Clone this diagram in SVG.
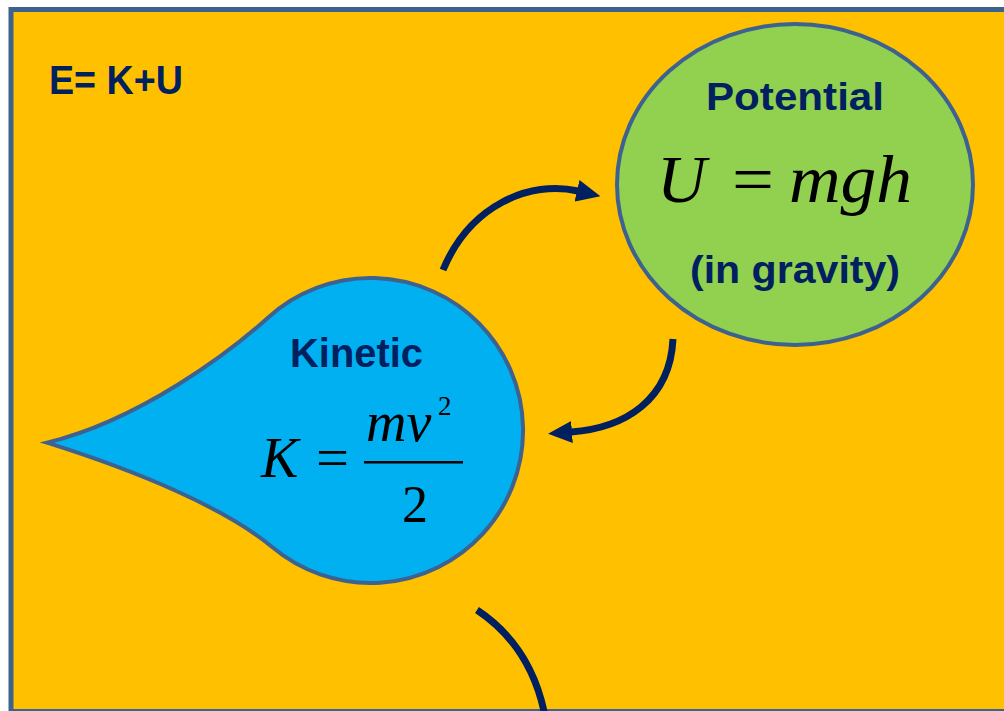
<svg xmlns="http://www.w3.org/2000/svg" width="1004" height="711" viewBox="0 0 1004 711">
  <style>
    .lbl { font-family: "Liberation Sans", Arial, sans-serif; font-weight: bold; fill: #002060; }
    .mi { font-family: "Liberation Serif", "Times New Roman", serif; font-style: italic; fill: #000; }
    .mr { font-family: "Liberation Serif", "Times New Roman", serif; fill: #000; }
    .shape { stroke: #3E6290; stroke-width: 4; }
    .conn { fill: none; stroke: #002060; stroke-width: 7; stroke-linecap: butt; }
  </style>
  <defs>
    <marker id="head" viewBox="0 0 24 22" refX="1" refY="11" markerWidth="24" markerHeight="22" markerUnits="userSpaceOnUse" orient="auto">
      <path d="M0,0 L24,11 L0,22 z" fill="#002060"/>
    </marker>
  </defs>
  <rect width="1004" height="711" fill="#ffffff"/>
  <g id="frame">
    <rect x="11" y="9.5" width="1010" height="702" fill="#FFC000" stroke="#3E6290" stroke-width="5"/>
    <text class="lbl" x="49" y="94" font-size="40" textLength="134" lengthAdjust="spacingAndGlyphs">E= K+U</text>
  </g>
  <g id="connectors">
    <path class="conn" d="M443,270 C470,205 530,180 578,191" marker-end="url(#head)"/>
    <path class="conn" d="M673,339 C670,400 625,428 571,432" marker-end="url(#head)"/>
    <path class="conn" d="M477,610 C510,632 535,665 545,716"/>
  </g>
  <g id="potential">
    <ellipse class="shape" cx="795" cy="184.5" rx="178" ry="160.5" fill="#92D050"/>
    <text class="lbl" x="706" y="110" font-size="39" textLength="178" lengthAdjust="spacingAndGlyphs">Potential</text>
    <text class="mi" x="657" y="202" font-size="68">U</text>
    <text class="mr" x="732" y="202" font-size="68" textLength="42" lengthAdjust="spacingAndGlyphs">=</text>
    <text class="mi" x="789" y="202" font-size="68" textLength="123" lengthAdjust="spacingAndGlyphs">mgh</text>
    <text class="lbl" x="690" y="283" font-size="38" textLength="210" lengthAdjust="spacingAndGlyphs">(in gravity)</text>
  </g>
  <g id="kinetic">
    <path class="shape" fill="#00B0F0" d="M47,442.7 C140,420 230,352 268.5,317.2 A152.5,152.5 0 1 1 272.5,547.3 C226.5,508.7 140,472 47,442.7 Z"/>
    <text class="lbl" x="290" y="367" font-size="40" textLength="133" lengthAdjust="spacingAndGlyphs">Kinetic</text>
    <text class="mi" x="261" y="477" font-size="56">K</text>
    <text class="mr" x="316" y="477" font-size="56" textLength="33" lengthAdjust="spacingAndGlyphs">=</text>
    <rect x="364" y="461" width="99" height="2.5" fill="#000"/>
    <text class="mi" x="366" y="441" font-size="56">mv</text>
    <text class="mr" x="438" y="415" font-size="27">2</text>
    <text class="mr" x="402" y="522" font-size="52">2</text>
  </g>
</svg>
